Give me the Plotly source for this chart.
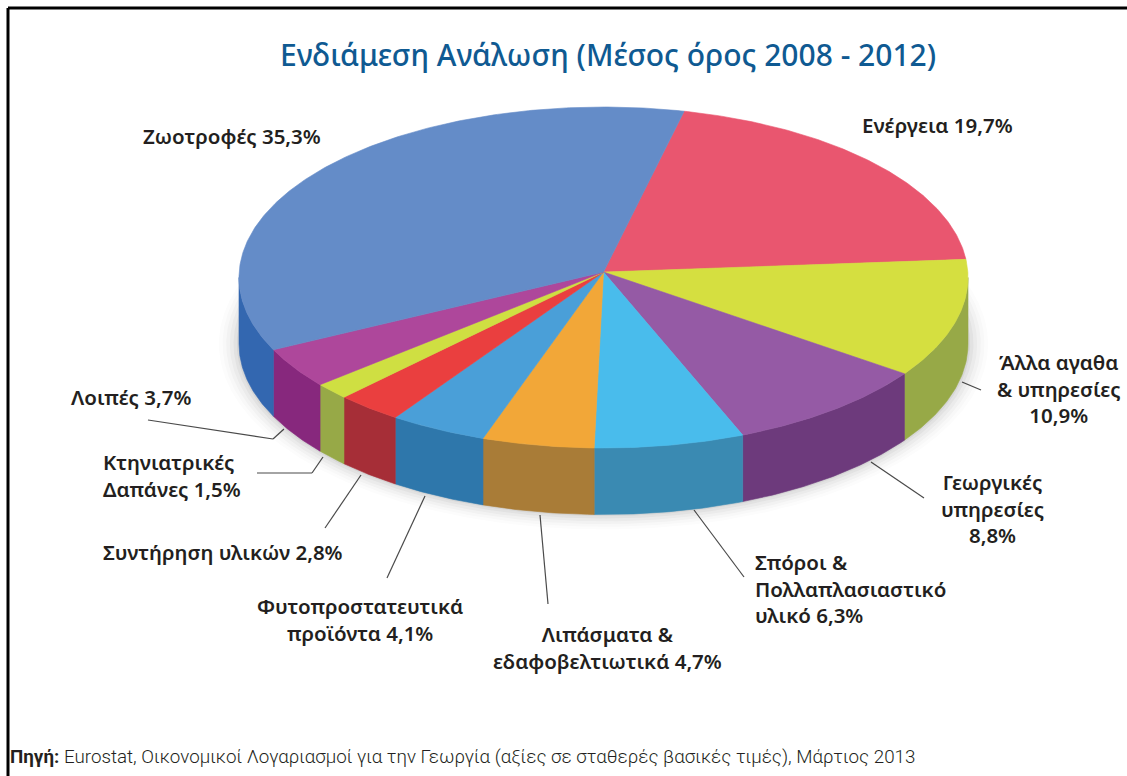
import numpy as np
import plotly.graph_objects as go

WIDTH, HEIGHT = 1127, 776

# Shares of intermediate consumption (%), clockwise from the feed/energy boundary
categories = ["Ενέργεια", "Άλλα αγαθα & υπηρεσίες", "Γεωργικές υπηρεσίες",
              "Σπόροι & Πολλαπλασιαστικό υλικό", "Λιπάσματα & εδαφοβελτιωτικά",
              "Φυτοπροστατευτικά προϊόντα", "Συντήρηση υλικών",
              "Κτηνιατρικές Δαπάνες", "Λοιπές", "Ζωοτροφές"]
values = [19.7, 10.9, 8.8, 6.3, 4.7, 4.1, 2.8, 1.5, 3.7, 35.3]
top_colors = ["#e9566f", "#d5df40", "#955aa5", "#49bcec", "#f2a738",
              "#4a9fd8", "#ea3f3f", "#cfdf42", "#ae479b", "#648cc8"]
side_colors = ["#b8404f", "#97a947", "#6d3a7c", "#3a8ab2", "#a97c37",
               "#2e77ab", "#a62e37", "#97a947", "#87287d", "#3367b0"]

START_ANGLE = 13.2      # degrees clockwise from the top of the pie
APEX_LIFT = 0.032       # the wedges meet slightly behind the ellipse centre
DEPTH = 0.39            # thickness of the disc, in vertical pie radii

# Axis scaling: one pie radius is 364.5 px wide and 170.5 px tall
CX, CY, RX, RY = 603.5, 277.5, 364.5, 170.5
x_range = [-CX / RX, (WIDTH - CX) / RX]
y_range = [-(HEIGHT - CY) / RY, CY / RY]


def rim(a0, a1):
    t = np.radians(np.linspace(a0, a1, max(int(abs(a1 - a0) * 2), 2)))
    return np.sin(t), np.cos(t)


def rim_angle(a):
    """Angle on the rim hit by a ray leaving the raised apex at bearing a."""
    t = np.radians(a)
    dx, dy = np.sin(t), np.cos(t)
    b = APEX_LIFT * dy
    s = -b + np.sqrt(b * b + 1 - APEX_LIFT ** 2)
    return np.degrees(np.arctan2(s * dx, APEX_LIFT + s * dy)) % 360


fig = go.Figure()

# Soft drop shadow built from stacked translucent discs
shadow_x, shadow_y = rim(0, 360)
for spread, alpha in [(0.055, 0.016), (0.045, 0.020), (0.035, 0.026),
                      (0.025, 0.032), (0.015, 0.042), (0.006, 0.055)]:
    fig.add_trace(go.Scatter(
        x=(1 + spread) * shadow_x,
        y=(1 + spread * 1.6) * shadow_y - DEPTH,
        mode="lines", fill="toself", fillcolor=f"rgba(40,40,40,{alpha})",
        line=dict(width=0), hoverinfo="skip"))

total = sum(values)
bearings = START_ANGLE + np.concatenate([[0], np.cumsum(values)]) * 360 / total
edges = [rim_angle(a) for a in bearings[:-1]]
edges.append(edges[0] + 360)

# Visible side wall: only the part of each slice facing the viewer
for i, name in enumerate(categories):
    lo, hi = max(edges[i], 90), min(edges[i + 1], 270)
    if hi <= lo:
        continue
    xs, ys = rim(lo, hi)
    fig.add_trace(go.Scatter(
        x=np.concatenate([xs, xs[::-1], xs[:1]]),
        y=np.concatenate([ys, ys[::-1] - DEPTH, ys[:1]]),
        mode="lines", fill="toself", fillcolor=side_colors[i],
        line=dict(width=0.6, color=side_colors[i]), hoverinfo="skip"))

# Top face wedges
for i, name in enumerate(categories):
    xs, ys = rim(edges[i], edges[i + 1])
    fig.add_trace(go.Scatter(
        x=np.concatenate([[0], xs, [0]]),
        y=np.concatenate([[APEX_LIFT], ys, [APEX_LIFT]]),
        mode="lines", fill="toself", fillcolor=top_colors[i],
        line=dict(width=0.6, color=top_colors[i]),
        name=name, text=f"{name} {values[i]}%", hoverinfo="text"))

LABEL_FONT = dict(family="Noto Sans", size=20.5, color="#231f20", weight=600)

# text, x, y, anchor
labels = [
    ("Ζωοτροφές 35,3%", 232, 136, "center"),
    ("Ενέργεια 19,7%", 937, 125, "center"),
    ("Άλλα αγαθα<br>& υπηρεσίες<br>10,9%", 1059, 388, "center"),
    ("Γεωργικές<br>υπηρεσίες<br>8,8%", 992, 508, "center"),
    ("Σπόροι &<br>Πολλαπλασιαστικό<br>υλικό 6,3%", 753, 588, "left"),
    ("Λιπάσματα &<br>εδαφοβελτιωτικά 4,7%", 607, 647, "center"),
    ("Φυτοπροστατευτικά<br>προϊόντα 4,1%", 360, 619, "center"),
    ("Συντήρηση υλικών 2,8%", 101, 552, "left"),
    ("Κτηνιατρικές<br>Δαπάνες 1,5%", 101, 475, "left"),
    ("Λοιπές 3,7%", 69, 397, "left"),
]
annotations = []
for text, px, py, anchor in labels:
    annotations.append(dict(
        text=text, x=px / WIDTH, y=1 - py / HEIGHT, xref="paper", yref="paper",
        xanchor=anchor, yanchor="middle", align=anchor, showarrow=False,
        font=LABEL_FONT))

annotations.append(dict(
    text="Ενδιάμεση Ανάλωση (Μέσος όρος 2008 - 2012)",
    x=608 / WIDTH, y=1 - 55 / HEIGHT, xref="paper", yref="paper",
    xanchor="center", yanchor="middle", showarrow=False,
    font=dict(family="Noto Sans", size=30, color="#0f5a92", weight=500)))
annotations.append(dict(
    text="<b>Πηγή:</b> Eurostat, Οικονομικοί Λογαριασμοί για την Γεωργία "
         "(αξίες σε σταθερές βασικές τιμές), Μάρτιος 2013",
    x=8 / WIDTH, y=1 - 757 / HEIGHT, xref="paper", yref="paper",
    xanchor="left", yanchor="middle", showarrow=False,
    font=dict(family="Roboto", size=18.8, color="#231f20", weight=300)))

# Leader lines from the labels to the disc, as pixel polylines
guides = [
    [(148, 420), (273, 439), (284, 429)],
    [(257, 473), (312, 473), (323, 457)],
    [(361, 475), (325, 528)],
    [(425, 496), (387, 578)],
    [(540, 515), (548, 604)],
    [(694, 510), (744, 577)],
    [(871, 462), (924, 498)],
    [(962, 382), (981, 390)],
]
shapes = []
for path in guides:
    for (x0, y0), (x1, y1) in zip(path, path[1:]):
        shapes.append(dict(type="line", xref="paper", yref="paper",
                           x0=x0 / WIDTH, y0=1 - y0 / HEIGHT,
                           x1=x1 / WIDTH, y1=1 - y1 / HEIGHT,
                           line=dict(color="#4a4a4a", width=1.2), layer="below"))

# Frame: heavy rule along the top and left edges
shapes.append(dict(type="line", xref="paper", yref="paper",
                   x0=8 / WIDTH, x1=1, y0=1 - 8 / HEIGHT, y1=1 - 8 / HEIGHT,
                   line=dict(color="#000000", width=3)))
shapes.append(dict(type="line", xref="paper", yref="paper",
                   x0=8 / WIDTH, x1=8 / WIDTH, y0=0, y1=1 - 8 / HEIGHT,
                   line=dict(color="#000000", width=3)))

fig.update_layout(
    width=WIDTH, height=HEIGHT, margin=dict(l=0, r=0, t=0, b=0),
    paper_bgcolor="#ffffff", plot_bgcolor="#ffffff", showlegend=False,
    xaxis=dict(range=x_range, visible=False, fixedrange=True),
    yaxis=dict(range=y_range, visible=False, fixedrange=True),
    annotations=annotations, shapes=shapes)

fig.write_html("out.html", config=dict(displayModeBar=False))
